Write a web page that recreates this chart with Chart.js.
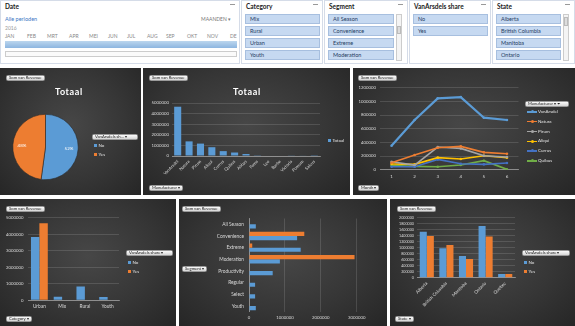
<!DOCTYPE html>
<html><head><meta charset="utf-8">
<script src="https://cdn.jsdelivr.net/npm/chart.js@4/dist/chart.umd.min.js"></script>
<style>
html,body{margin:0;padding:0;background:#fff;width:575px;height:326px;overflow:hidden;font-family:Lato,"Liberation Sans",sans-serif;}
.abs{position:absolute;}
.slicer{position:absolute;background:#fff;border:1px solid #d5dce8;box-sizing:border-box;}
.stitle{position:absolute;left:4px;top:2px;font-size:6.5px;font-weight:bold;color:#222;}
.ficon{position:absolute;right:4px;top:3px;width:5px;height:5px;border-top:1px solid #999;font-size:0;}
.item{position:absolute;height:10px;background:#c6d9f1;border:1px solid #a7bfdf;box-sizing:border-box;font-size:5.5px;line-height:9px;padding-left:4px;color:#1f3b5f;}
.sb{position:absolute;width:6px;border:1px solid #ccc;box-sizing:border-box;background:#f4f4f4;}
.panel{position:absolute;background:radial-gradient(ellipse at 50% 45%,#474747 0%,#363636 55%,#262626 100%);}
.btn{position:absolute;height:6px;background:linear-gradient(#fafafa,#d6d6d6);border:1px solid #9a9a9a;border-radius:1.5px;box-sizing:border-box;font-size:4.2px;line-height:4.5px;color:#222;padding:0 2px;white-space:nowrap;}
.ttl{position:absolute;color:#fff;font-weight:bold;font-size:9px;letter-spacing:0.6px;}
.lg{position:absolute;color:#e0e0e0;font-size:4.5px;white-space:nowrap;}
.sq{display:inline-block;width:3px;height:3px;margin-right:1.5px;vertical-align:middle;}
canvas{position:absolute;}
</style></head><body>

<!-- slicers -->
<div class="slicer" style="left:0;top:0;width:240px;height:64px;">
  <div class="stitle">Date</div><div class="ficon"></div>
  <div class="abs" style="left:4px;top:15px;font-size:5.5px;color:#3d78c4;">Alle perioden</div>
  <div class="abs" style="left:200px;top:15px;font-size:5px;color:#777;">MAANDEN ▾</div>
  <div class="abs" style="left:4px;top:24px;font-size:5px;color:#999;">2016</div>
  <div id="months" class="abs" style="left:0;top:32px;width:240px;height:6px;font-size:5px;color:#888;"></div>
  <div class="abs" style="left:4px;top:40px;width:232px;height:7px;background:linear-gradient(#bcd6ee,#8db6e0);"></div>
  <div class="abs" style="left:4px;top:50px;width:232px;height:6px;border:1px solid #ccc;box-sizing:border-box;background:#fafafa;"></div>
</div>
<div class="slicer" style="left:241px;top:0;width:82px;height:64px;">
  <div class="stitle">Category</div><div class="ficon"></div>
  <div id="catItems"></div>
</div>
<div class="slicer" style="left:324px;top:0;width:84px;height:64px;">
  <div class="stitle">Segment</div><div class="ficon"></div>
  <div id="segItems"></div>
  <div class="sb" style="left:71px;top:13px;height:47px;"></div>
  <div class="abs" style="left:72px;top:25px;width:4px;height:8px;background:#ddd;border:1px solid #bbb;box-sizing:border-box;"></div>
</div>
<div class="slicer" style="left:409px;top:0;width:82px;height:64px;">
  <div class="stitle">VanArsdels share</div><div class="ficon"></div>
  <div id="shareItems"></div>
</div>
<div class="slicer" style="left:492px;top:0;width:83px;height:64px;">
  <div class="stitle">State</div><div class="ficon"></div>
  <div id="stateItems"></div>
  <div class="sb" style="left:70px;top:13px;height:47px;"></div>
  <div class="abs" style="left:71px;top:16px;width:4px;height:9px;background:#ddd;border:1px solid #bbb;box-sizing:border-box;"></div>
</div>

<!-- panels -->
<div class="panel" style="left:0;top:68px;width:141px;height:127px;"></div>
<div class="panel" style="left:143px;top:68px;width:207px;height:127px;"></div>
<div class="panel" style="left:353px;top:68px;width:222px;height:127px;"></div>
<div class="panel" style="left:0;top:199px;width:176px;height:127px;"></div>
<div class="panel" style="left:179px;top:199px;width:208px;height:127px;"></div>
<div class="panel" style="left:390px;top:199px;width:185px;height:127px;"></div>

<canvas id="c1" width="141" height="127" style="left:0;top:68px;"></canvas>
<canvas id="c2" width="207" height="127" style="left:143px;top:68px;"></canvas>
<canvas id="c3" width="222" height="127" style="left:353px;top:68px;"></canvas>
<canvas id="c4" width="176" height="127" style="left:0;top:199px;"></canvas>
<canvas id="c5" width="208" height="127" style="left:179px;top:199px;"></canvas>
<canvas id="c6" width="185" height="127" style="left:390px;top:199px;"></canvas>

<!-- overlay texts -->
<div class="btn" style="left:6px;top:75px;">Som van Revenue</div>
<div class="ttl" style="left:55px;top:86px;">Totaal</div>
<div class="btn" style="left:92px;top:134px;width:46px;">VanArsdels sh... ▾</div>
<div class="lg" style="left:94px;top:143px;"><span class="sq" style="background:#5b9bd5"></span>No</div>
<div class="lg" style="left:94px;top:152px;"><span class="sq" style="background:#ed7d31"></span>Yes</div>

<div class="btn" style="left:149px;top:75px;">Som van Revenue</div>
<div class="ttl" style="left:233px;top:86px;">Totaal</div>
<div class="lg" style="left:328px;top:138px;"><span class="sq" style="background:#5b9bd5"></span>Totaal</div>
<div class="btn" style="left:149px;top:185px;">Manufacturer ▾</div>

<div class="btn" style="left:358px;top:75px;">Som van Revenue</div>
<div class="btn" style="left:525px;top:101px;width:44px;">Manufacturer ▾ ⏷</div>
<div id="lineLegend"></div>
<div class="btn" style="left:358px;top:185px;">Month ▾</div>

<div class="btn" style="left:6px;top:206px;">Som van Revenue</div>
<div class="btn" style="left:126px;top:250px;width:47px;">VanArsdels share ▾</div>
<div class="lg" style="left:128px;top:260px;"><span class="sq" style="background:#5b9bd5"></span>No</div>
<div class="lg" style="left:128px;top:269px;"><span class="sq" style="background:#ed7d31"></span>Yes</div>
<div class="btn" style="left:6px;top:316px;">Category ▾</div>

<div class="btn" style="left:182px;top:206px;">Som van Revenue</div>
<div class="btn" style="left:182px;top:266px;">Segment ▾</div>

<div class="btn" style="left:397px;top:206px;">Som van Revenue</div>
<div class="btn" style="left:522px;top:250px;width:48px;">VanArsdels share ▾</div>
<div class="lg" style="left:524px;top:260px;"><span class="sq" style="background:#5b9bd5"></span>No</div>
<div class="lg" style="left:524px;top:269px;"><span class="sq" style="background:#ed7d31"></span>Yes</div>
<div class="btn" style="left:395px;top:316px;">State ▾</div>

<script>
// ---------- data ----------
const monthNames = ["JAN","FEB","MRT","APR","MEI","JUN","JUL","AUG","SEP","OKT","NOV","DE"];
const categorySlicer = ["Mix","Rural","Urban","Youth"];
const segmentSlicer = ["All Season","Convenience","Extreme","Moderation"];
const shareSlicer = ["No","Yes"];
const stateSlicer = ["Alberta","British Columbia","Manitoba","Ontario"];

const shareLabels = ["No","Yes"];
const shareTotals = [5080000, 4660000];

const manufacturers = ["VanArsdel","Natura","Pirum","Aliqui","Currus","Quibus","Abbas","Fama","Leo","Barba","Victoria","Pomum","Salvus"];
const manufacturerRevenue = [4650000,1380000,1170000,830000,460000,330000,190000,70000,50000,50000,60000,40000,20000];

const months = ["1","2","3","4","5","6"];
const lineManufacturers = ["VanArsdel","Natura","Pirum","Aliqui","Currus","Quibus"];
const vanArsdelByMonth = [350000,727000,1044000,1063000,761000,727000];
const naturaByMonth = [102000,215000,322000,341000,254000,234000];
const pirumByMonth = [117000,68000,332000,312000,205000,185000];
const aliquiByMonth = [83000,78000,176000,156000,205000,176000];
const currusByMonth = [44000,44000,151000,88000,78000,98000];
const quibusByMonth = [59000,49000,44000,68000,132000,5000];

const categories = ["Urban","Mix","Rural","Youth"];
const categoryNo = [3830000,220000,830000,200000];
const categoryYes = [4660000,null,null,null];

const segments = ["All Season","Convenience","Extreme","Moderation","Productivity","Regular","Select","Youth"];
const segmentNo = [190000,1340000,1440000,860000,660000,170000,170000,190000];
const segmentYes = [null,1540000,90000,2940000,null,null,null,null];

const states = ["Alberta","British Columbia","Manitoba","Ontario","Quebec"];
const stateNo = [1530000,980000,720000,1720000,120000];
const stateYes = [1390000,1090000,620000,1370000,120000];

const BLUE = "#5b9bd5", ORANGE = "#ed7d31";
const lineColors = ["#5b9bd5","#ed7d31","#a5a5a5","#ffc000","#4472c4","#70ad47"];

// ---------- slicers ----------
(function(){
  const m = document.getElementById('months');
  const xs = [4,26,46,68,88,107,126,146,165,186,206,229];
  monthNames.forEach((t,i)=>{ const d=document.createElement('div'); d.className='abs'; d.style.left=xs[i]+'px'; d.textContent=t; m.appendChild(d); });
  function items(id, arr, w){
    const host = document.getElementById(id);
    arr.forEach((t,i)=>{ const d=document.createElement('div'); d.className='item'; d.style.left='3px'; d.style.top=(13+i*12)+'px'; d.style.width=w+'px'; d.textContent=t; host.appendChild(d); });
  }
  items('catItems', categorySlicer, 75);
  items('segItems', segmentSlicer, 66);
  items('shareItems', shareSlicer, 75);
  items('stateItems', stateSlicer, 65);
  const ll = document.getElementById('lineLegend');
  lineManufacturers.forEach((t,i)=>{
    const d=document.createElement('div'); d.className='lg'; d.style.left='527px'; d.style.top=(109+i*9.8)+'px';
    d.innerHTML='<span style="display:inline-block;width:10px;height:1.5px;background:'+lineColors[i]+';vertical-align:middle;margin-right:1px;position:relative;"><span style="position:absolute;left:3.5px;top:-1px;width:3px;height:3px;border-radius:50%;background:'+lineColors[i]+'"></span></span>'+t;
    ll.appendChild(d);
  });
})();

// ---------- helpers ----------
const FONT = 'Lato';
const TICK = '#d9d9d9';
const GRID = 'rgba(255,255,255,0.13)';
const plain = v => String(v);
function yFit(w){ return s=>{ s.width=w; s.paddingTop=0; s.paddingBottom=0; s.paddingLeft=0; s.paddingRight=0; }; }
function xFit(h){ return s=>{ s.height=h; s.paddingLeft=0; s.paddingRight=0; s.paddingTop=0; s.paddingBottom=0; }; }
const base = { responsive:false, animation:false, devicePixelRatio:1,
  plugins:{ legend:{display:false}, tooltip:{enabled:false}, title:{display:false} } };

// ---------- chart 1 pie ----------
const pieLabelPlugin = { id:'pieLabels', afterDatasetsDraw(chart){
  const meta = chart.getDatasetMeta(0); const vals = chart.data.datasets[0].data;
  const tot = vals.reduce((a,b)=>a+b,0); const ctx = chart.ctx;
  ctx.save(); ctx.font='4.5px '+FONT; ctx.fillStyle='#fff'; ctx.textAlign='center'; ctx.textBaseline='middle';
  meta.data.forEach((arc,i)=>{ const mid=(arc.startAngle+arc.endAngle)/2; const r=arc.outerRadius*0.72;
    ctx.fillText(Math.round(vals[i]/tot*100)+'%', arc.x+Math.cos(mid)*r, arc.y+Math.sin(mid)*r); });
  ctx.restore(); } };
new Chart(document.getElementById('c1'), {
  type:'pie',
  data:{ labels:shareLabels, datasets:[{ data:shareTotals, backgroundColor:[BLUE,ORANGE], borderColor:'#2a2a2a', borderWidth:0.6 }] },
  options:Object.assign({}, base, { layout:{ padding:{left:12,top:46,right:62,bottom:15} } }),
  plugins:[pieLabelPlugin]
});

// ---------- chart 2 manufacturer bars ----------
new Chart(document.getElementById('c2'), {
  type:'bar',
  data:{ labels:manufacturers, datasets:[{ label:'Totaal', data:manufacturerRevenue, backgroundColor:BLUE, categoryPercentage:1, barPercentage:0.62 }] },
  options:Object.assign({}, base, {
    layout:{ padding:{left:0,top:35,right:30,bottom:0} },
    scales:{
      x:{ afterFit:xFit(39), grid:{display:false, drawTicks:false}, border:{color:'rgba(255,255,255,0.35)'},
          ticks:{ color:TICK, font:{family:FONT,size:4.3}, minRotation:45, maxRotation:45, autoSkip:false, padding:3 } },
      y:{ min:0, max:5000000, afterFit:yFit(29), grid:{color:GRID, drawTicks:false}, border:{display:false},
          ticks:{ stepSize:1000000, color:TICK, font:{family:FONT,size:4.3}, padding:3, callback:plain } }
    }
  })
});

// ---------- chart 3 lines ----------
const lineData = [vanArsdelByMonth,naturaByMonth,pirumByMonth,aliquiByMonth,currusByMonth,quibusByMonth];
new Chart(document.getElementById('c3'), {
  type:'line',
  data:{ labels:months, datasets: lineManufacturers.map((n,i)=>({ label:n, data:lineData[i], borderColor:lineColors[i], backgroundColor:lineColors[i],
      borderWidth: i===0?2.2:1.6, pointRadius:1.3, pointBorderWidth:0, tension:0 })) },
  options:Object.assign({}, base, {
    layout:{ padding:{left:0,top:19.7,right:56.5,bottom:0} },
    scales:{
      x:{ offset:true, afterFit:xFit(25.3), grid:{display:false, drawTicks:false, offset:true}, border:{color:'rgba(255,255,255,0.35)'},
          ticks:{ color:TICK, font:{family:FONT,size:4.5}, padding:4, maxRotation:0 } },
      y:{ min:0, max:1200000, afterFit:yFit(27), grid:{color:GRID, drawTicks:false}, border:{display:false},
          ticks:{ stepSize:200000, color:TICK, font:{family:FONT,size:4.3}, padding:4, callback:plain } }
    }
  })
});

// ---------- chart 4 category ----------
new Chart(document.getElementById('c4'), {
  type:'bar',
  data:{ labels:categories, datasets:[
    { label:'No', data:categoryNo, backgroundColor:BLUE, categoryPercentage:0.74, barPercentage:1 },
    { label:'Yes', data:categoryYes, backgroundColor:ORANGE, categoryPercentage:0.74, barPercentage:1 } ] },
  options:Object.assign({}, base, {
    layout:{ padding:{left:0,top:18.7,right:57,bottom:0} },
    scales:{
      x:{ afterFit:xFit(25.7), grid:{display:false, drawTicks:false}, border:{color:'rgba(255,255,255,0.35)'},
          ticks:{ color:TICK, font:{family:FONT,size:4.8}, padding:3, maxRotation:0 } },
      y:{ min:0, max:5000000, afterFit:yFit(28), grid:{color:GRID, drawTicks:false}, border:{display:false},
          ticks:{ stepSize:1000000, color:TICK, font:{family:FONT,size:4.3}, padding:4.5, callback:plain } }
    }
  })
});

// ---------- chart 5 segment (horizontal) ----------
new Chart(document.getElementById('c5'), {
  type:'bar',
  data:{ labels:segments, datasets:[
    { label:'Yes', data:segmentYes, backgroundColor:ORANGE, categoryPercentage:0.72, barPercentage:1 },
    { label:'No', data:segmentNo, backgroundColor:BLUE, categoryPercentage:0.72, barPercentage:1 } ] },
  options:Object.assign({}, base, {
    indexAxis:'y',
    layout:{ padding:{left:0,top:19.5,right:30.3,bottom:0} },
    scales:{
      x:{ min:0, max:3000000, afterFit:xFit(14.2), grid:{color:GRID, drawTicks:false}, border:{display:false},
          ticks:{ stepSize:1000000, color:TICK, font:{family:FONT,size:4.3}, padding:3.5, maxRotation:0, callback:plain } },
      y:{ afterFit:yFit(70), grid:{display:false, drawTicks:false}, border:{color:'rgba(255,255,255,0.35)'},
          ticks:{ color:TICK, font:{family:FONT,size:4.8}, padding:5, autoSkip:false } }
    }
  })
});

// ---------- chart 6 state ----------
new Chart(document.getElementById('c6'), {
  type:'bar',
  data:{ labels:states, datasets:[
    { label:'No', data:stateNo, backgroundColor:BLUE, categoryPercentage:0.72, barPercentage:1 },
    { label:'Yes', data:stateYes, backgroundColor:ORANGE, categoryPercentage:0.72, barPercentage:1 } ] },
  options:Object.assign({}, base, {
    layout:{ padding:{left:0,top:18.7,right:60,bottom:0} },
    scales:{
      x:{ afterFit:xFit(48.3), grid:{display:false, drawTicks:false}, border:{color:'rgba(255,255,255,0.35)'},
          ticks:{ color:TICK, font:{family:FONT,size:4.5}, minRotation:45, maxRotation:45, autoSkip:false, padding:3 } },
      y:{ min:0, max:2000000, afterFit:yFit(27), grid:{color:GRID, drawTicks:false}, border:{display:false},
          ticks:{ stepSize:200000, color:TICK, font:{family:FONT,size:3.7}, padding:3, autoSkip:false, callback:plain } }
    }
  })
});
</script>
</body></html>
